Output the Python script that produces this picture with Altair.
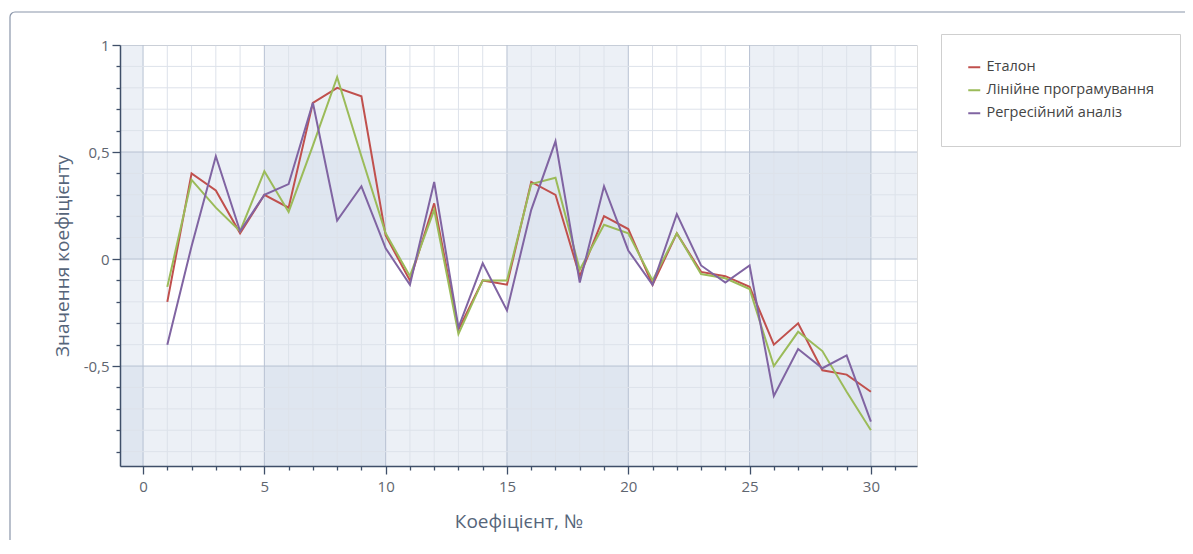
import altair as alt
import pandas as pd

# ---- data ----
coef = list(range(1, 31))
etalon = [-0.20, 0.40, 0.32, 0.12, 0.30, 0.24, 0.73, 0.80, 0.76, 0.11,
          -0.10, 0.26, -0.33, -0.10, -0.12, 0.36, 0.30, -0.08, 0.20, 0.14,
          -0.12, 0.12, -0.06, -0.08, -0.13, -0.40, -0.30, -0.52, -0.54, -0.62]
linear = [-0.13, 0.37, 0.24, 0.13, 0.41, 0.22, 0.53, 0.85, 0.48, 0.12,
          -0.08, 0.23, -0.35, -0.10, -0.10, 0.35, 0.38, -0.05, 0.16, 0.12,
          -0.10, 0.12, -0.07, -0.09, -0.14, -0.50, -0.34, -0.43, -0.62, -0.80]
regress = [-0.40, 0.06, 0.48, 0.13, 0.30, 0.35, 0.73, 0.18, 0.34, 0.05,
           -0.12, 0.36, -0.32, -0.02, -0.24, 0.23, 0.55, -0.11, 0.34, 0.04,
           -0.12, 0.21, -0.03, -0.11, -0.03, -0.64, -0.42, -0.51, -0.45, -0.76]
series_names = ["Еталон", "Лінійне програмування", "Регресійний аналіз"]
series_colors = ["#c0504d", "#9bbb59", "#8064a2"]

x_ticks = list(range(0, 32))
y_ticks = [-0.9, -0.8, -0.7, -0.6, -0.5, -0.4, -0.3, -0.2, -0.1, 0.0,
           0.1, 0.2, 0.3, 0.4, 0.5, 0.6, 0.7, 0.8, 0.9, 1.0]
col_band_start = [-5, 5, 15, 25]
col_band_end = [0, 10, 20, 30]
row_band_start = [0.0, -1.0]
row_band_end = [0.5, -0.5]

X_DOMAIN = [-0.95, 31.9]
Y_DOMAIN = [-0.967, 1.0]
W, H = 797, 421

rows = []
for name, vals in zip(series_names, [etalon, linear, regress]):
    for c, v in zip(coef, vals):
        rows.append({"coef": c, "value": v, "series": name})
df = pd.DataFrame(rows)

xs = alt.Scale(domain=X_DOMAIN, nice=False, zero=False)
ys = alt.Scale(domain=Y_DOMAIN, nice=False, zero=False)

axis_col = "#3f4f69"
font = "Open Sans"

x_axis = alt.Axis(
    values=x_ticks,
    grid=False, zindex=2, labelOverlap=False, labelBound=False,
    labelExpr="datum.value % 5 === 0 ? datum.label : ''",
    tickSize=alt.condition("datum.value % 5 === 0", alt.value(8), alt.value(4)),
    tickColor=axis_col, tickWidth=1.3,
    domainColor=axis_col, domainWidth=1.5,
    labelColor="#5f6670", labelFontSize=15, labelFont=font, labelPadding=5,
    title="Коефіцієнт, №", titleFont=font, titleFontSize=19, titleFontWeight="normal",
    titleColor="#56657a", titleX=W / 2, titleY=55, titleBaseline="middle",
    titleAlign="center",
)
y_axis = alt.Axis(
    values=y_ticks,
    grid=False, zindex=2, labelOverlap=False, labelBound=False,
    labelExpr="abs(round(datum.value*10)) % 5 === 0 ? replace(toString(datum.value), '.', ',') : ''",
    tickSize=alt.condition("abs(round(datum.value*10)) % 5 === 0", alt.value(8), alt.value(4)),
    tickColor=axis_col, tickWidth=1.3,
    domainColor=axis_col, domainWidth=1.5,
    labelColor="#5f6670", labelFontSize=15, labelFont=font, labelPadding=3,
    title="Значення коефіцієнту", titleFont=font, titleFontSize=19, titleFontWeight="normal",
    titleColor="#56657a", titleAngle=270, titleX=-58, titleY=H / 2,
    titleBaseline="middle", titleAlign="center",
)

# outer frame (decoration)
frame = alt.Chart(pd.DataFrame({"a": [0]})).mark_rect(
    fill="transparent", stroke="#8a96aa", strokeWidth=1.2, cornerRadius=5, clip=False
).encode(x=alt.value(-110), x2=alt.value(1075), y=alt.value(-33), y2=alt.value(540))

col_df = pd.DataFrame({"x": col_band_start, "x2": col_band_end})
col_bands = alt.Chart(col_df).mark_rect(
    fill="#c5d0e3", opacity=0.32, clip=True
).encode(x=alt.X("x:Q", scale=xs, axis=x_axis), x2="x2:Q")

row_df = pd.DataFrame({"y": row_band_start, "y2": row_band_end})
row_bands = alt.Chart(row_df).mark_rect(
    fill="#c5d0e3", opacity=0.32, clip=True
).encode(y=alt.Y("y:Q", scale=ys, axis=y_axis), y2="y2:Q")

xg = pd.DataFrame({"x": x_ticks})
xg["major"] = xg["x"] % 5 == 0
yg = pd.DataFrame({"y": y_ticks})
yg["major"] = [abs(round(v * 10)) % 5 == 0 for v in y_ticks]

x_grid = alt.Chart(xg).mark_rule(clip=True, strokeWidth=1).encode(
    x=alt.X("x:Q", scale=xs, axis=x_axis),
    color=alt.condition("datum.major", alt.value("#b7c1d2"), alt.value("#dde2ea")),
)
y_grid = alt.Chart(yg).mark_rule(clip=True, strokeWidth=1).encode(
    y=alt.Y("y:Q", scale=ys, axis=y_axis),
    color=alt.condition("datum.major", alt.value("#b7c1d2"), alt.value("#dde2ea")),
)

lines = alt.Chart(df).mark_line(strokeWidth=2, clip=True).encode(
    x=alt.X("coef:Q", scale=xs, axis=x_axis),
    y=alt.Y("value:Q", scale=ys, axis=y_axis),
    color=alt.Color(
        "series:N",
        scale=alt.Scale(domain=series_names, range=series_colors),
        sort=series_names,
        legend=alt.Legend(
            title=None, orient="none", legendX=821, legendY=-11,
            symbolType="stroke", symbolSize=144, symbolStrokeWidth=2,
            labelFont=font, labelFontSize=14.5, labelColor="#444444", labelLimit=400,
            labelOffset=5, rowPadding=8, padding=26,
            strokeColor="#cfcfcf", fillColor="white", cornerRadius=0,
        ),
    ),
    detail="series:N",
)

chart = alt.layer(frame, col_bands, row_bands, x_grid, y_grid, lines).properties(
    width=W, height=H,
    autosize=alt.AutoSizeParams(type="none"),
    padding={"left": 112, "top": 37, "right": 268, "bottom": 74},
).configure_view(stroke="#c5cdd9", strokeWidth=1).configure(background="white")

chart.save("out.html", embed_options={"renderer": "svg", "actions": False})
